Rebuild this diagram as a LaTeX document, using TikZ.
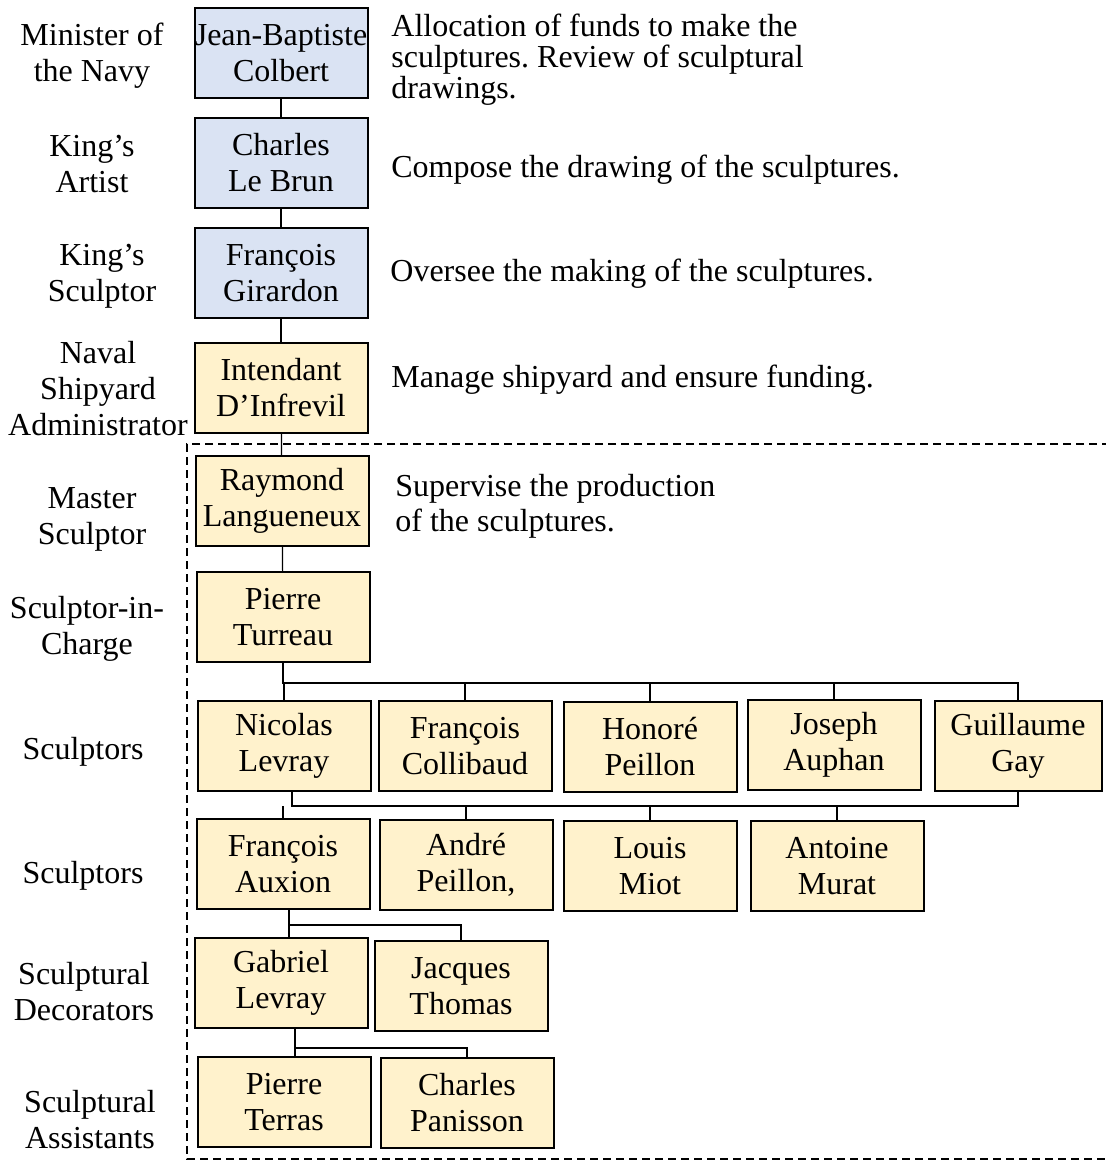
\documentclass[tikz,border=0pt]{standalone}
\usepackage{fontspec}
\setmainfont{Liberation Serif}
\frenchspacing
\definecolor{courtblue}{HTML}{DAE3F3}
\definecolor{yardcream}{HTML}{FFF2CC}
\begin{document}
\begin{tikzpicture}[x=0.5pt,y=-0.5pt,
  person/.style={draw, line width=1pt, minimum width=86.5pt, minimum height=45pt,
    inner xsep=0pt, inner ysep=1pt, align=center, font=\fontsize{16}{18}\selectfont},
  court/.style={person, fill=courtblue},
  yard/.style={person, fill=yardcream},
  role/.style={align=center, inner sep=0pt, font=\fontsize{16}{18}\selectfont},
  duty/.style={anchor=west, align=left, inner sep=0pt, font=\fontsize{16}{15.5}\selectfont},
  link/.style={line width=0.6pt}]
\useasboundingbox (0,0) rectangle (1106,1161);

% dashed frame round the shipyard workshop
\coordinate (frametl) at (187,444);
\coordinate (framebl) at (187,1159);
\draw[dash pattern=on 4pt off 2.5pt, line width=0.6pt] (1110,444) -- (frametl) -- (framebl) -- (1110,1159);

% court and administration
\node[court] (colbert) at (281,53) {Jean-Baptiste\\Colbert};
\node[court] (lebrun) at (281,163) {Charles\\Le Brun};
\node[court] (girardon) at (281,273) {François\\Girardon};
\node[yard] (infrevil) at (281,388) {Intendant\\D’Infrevil};
\node[yard] (langueneux) at (282,501) {Raymond\\Langueneux};
\node[yard] (turreau) at (283,617) {Pierre\\Turreau};

% sculptors
\node[yard] (nlevray) at (284,746) {Nicolas\\Levray};
\node[yard] (collibaud) at (465,746) {François\\Collibaud};
\node[yard] (hpeillon) at (650,747) {Honoré\\Peillon};
\node[yard] (auphan) at (834,745) {Joseph\\Auphan};
\node[yard, minimum width=83.5pt] (gay) at (1018,746) {Guillaume\\Gay};

\node[yard] (auxion) at (283,864) {François\\Auxion};
\node[yard] (apeillon) at (466,865) {André\\Peillon,};
\node[yard] (miot) at (650,866) {Louis\\Miot};
\node[yard] (murat) at (837,866) {Antoine\\Murat};

% decorators and assistants
\node[yard] (glevray) at (281,983) {Gabriel\\Levray};
\node[yard] (thomas) at (461,986) {Jacques\\Thomas};
\node[yard] (terras) at (284,1102) {Pierre\\Terras};
\node[yard] (panisson) at (467,1103) {Charles\\Panisson};

% ranks
\node[role] (rnavy) at (92,56) {Minister of\\the Navy};
\node[role] (rartist) at (92,164) {King’s\\Artist};
\node[role] (rsculptor) at (102,276) {King’s\\Sculptor};
\node[role] (radmin) at (98,389) {Naval\\Shipyard\\Administrator};
\node[role] (rmaster) at (92,519) {Master\\Sculptor};
\node[role] (rcharge) at (87,629) {Sculptor-in-\\Charge};
\node[role] (rrow1) at (83,752) {Sculptors};
\node[role] (rrow2) at (83,876) {Sculptors};
\node[role] (rdecor) at (84,992) {Sculptural\\Decorators};
\node[role] (rassist) at (90,1120) {Sculptural\\Assistants};

% duties
\node[duty] (dcolbert) at (391,60) {Allocation of funds to make the\\sculptures. Review of sculptural\\drawings.};
\node[duty] (dlebrun) at (391,170) {Compose the drawing of the sculptures.};
\node[duty] (dgirardon) at (390,274) {Oversee the making of the sculptures.};
\node[duty] (dinfrevil) at (391,380) {Manage shipyard and ensure funding.};
\node[duty, font=\fontsize{16}{17.5}\selectfont] (dlangueneux) at (395,506) {Supervise the production\\of the sculptures.};

% chain of command
\draw[link] (colbert) -- (lebrun);
\draw[link] (lebrun) -- (girardon);
\draw[link] (girardon) -- (infrevil);
\draw[link] (infrevil) -- (langueneux);
\draw[link] (langueneux) -- (turreau);

\coordinate (busa) at (283,683);
\draw[link] (turreau.south) -- (busa) -- (nlevray.north |- busa) -- (nlevray.north);
\draw[link] (busa) -| (gay.north);
\foreach \n in {collibaud,hpeillon,auphan}
  \draw[link] (\n.north |- busa) -- (\n.north);

\coordinate (busb) at (292,806);
\draw[link] (nlevray.south -| busb) -- (busb) -| (gay.south);
\foreach \n in {auxion,apeillon,miot,murat}
  \draw[link] (\n.north |- busb) -- (\n.north);

\coordinate (busc) at (289,925);
\draw[link] (auxion.south -| busc) -- (glevray.north -| busc);
\draw[link] (busc) -| (thomas.north);

\coordinate (busd) at (295,1048);
\draw[link] (glevray.south -| busd) -- (terras.north -| busd);
\draw[link] (busd) -| (panisson.north);
\end{tikzpicture}
\end{document}
